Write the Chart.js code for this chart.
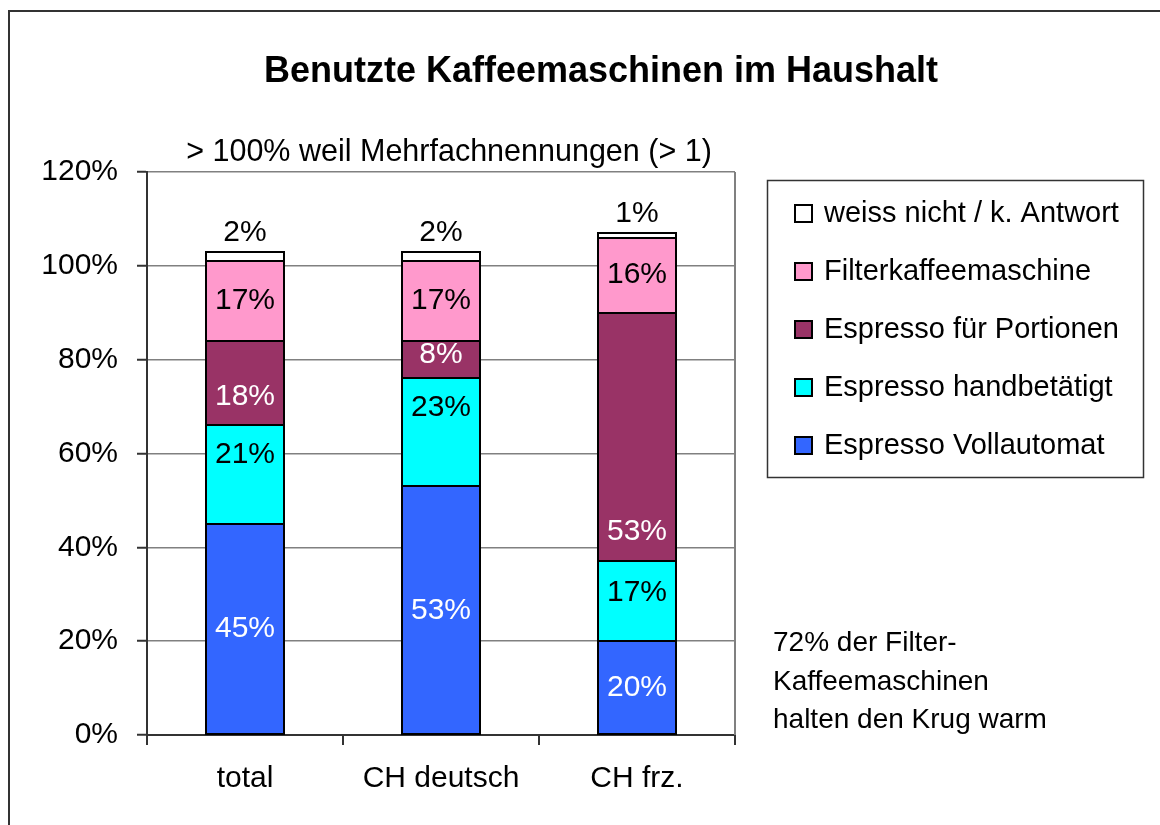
<!DOCTYPE html>
<html>
<head>
<meta charset="utf-8">
<script src="https://cdn.jsdelivr.net/npm/chart.js@4.4.1/dist/chart.umd.min.js"></script>
<style>
html,body{margin:0;padding:0;background:#fff;}
#wrap{width:1160px;height:825px;}
</style>
</head>
<body>
<div id="wrap"><canvas id="c" width="1160" height="825"></canvas></div>
<script>
// ---- data ----
const categories = ['total', 'CH deutsch', 'CH frz.'];
const seriesNames = ['Espresso Vollautomat', 'Espresso handbetätigt', 'Espresso für Portionen', 'Filterkaffeemaschine', 'weiss nicht / k. Antwort'];
const vollautomat = [45, 53, 20];
const handbetaetigt = [21, 23, 17];
const portionen = [18, 8, 53];
const filterkaffee = [17, 17, 16];
const weissNicht = [2, 2, 1];
const yTickValues = [0, 20, 40, 60, 80, 100, 120];
const titleText = 'Benutzte Kaffeemaschinen im Haushalt';
const subtitleText = '> 100% weil Mehrfachnennungen (> 1)';
const noteLines = ['72% der Filter-', 'Kaffeemaschinen', 'halten den Krug warm'];

// ---- styles ----
const FONT = '"Liberation Sans", Arial, sans-serif';
const colors = ['#3366FF', '#00FFFF', '#993366', '#FF99CC', '#FFFFFF'];
const labelColors = ['#FFFFFF', '#000000', '#FFFFFF', '#000000', '#000000'];
// label vertical shifts in pixels (style only)
const labelShift = [[0, 0, 0], [-20, -25, -9], [14, -5, 95], [0, 0, 0], [0, 0, 0]];

const seriesData = [vollautomat, handbetaetigt, portionen, filterkaffee, weissNicht];

const datasets = seriesData.map((d, i) => ({
  label: seriesNames[i],
  data: d,
  backgroundColor: colors[i],
  borderWidth: 0,
  barPercentage: 0.4,
  categoryPercentage: 1.0
}));

const decor = {
  id: 'decor',
  afterDatasetsDraw(chart) {
    const ctx = chart.ctx;
    ctx.save();
    // segment outlines, drawn from the elements' scale positions
    ctx.strokeStyle = '#000';
    ctx.lineWidth = 2;
    chart.data.datasets.forEach((ds, di) => {
      chart.getDatasetMeta(di).data.forEach(el => {
        const x0 = Math.round(el.x - el.width / 2), x1 = Math.round(el.x + el.width / 2);
        const y0 = Math.round(Math.min(el.y, el.base)), y1 = Math.round(Math.max(el.y, el.base));
        ctx.strokeRect(x0, y0, x1 - x0, y1 - y0);
      });
    });
    ctx.font = '30px ' + FONT;
    ctx.textAlign = 'center';
    ctx.textBaseline = 'middle';
    chart.data.datasets.forEach((ds, di) => {
      const meta = chart.getDatasetMeta(di);
      meta.data.forEach((el, j) => {
        const v = ds.data[j];
        let y;
        if (di === chart.data.datasets.length - 1) {
          y = Math.min(el.y, el.base) - 19;
        } else {
          y = (el.y + el.base) / 2 + labelShift[di][j];
        }
        ctx.fillStyle = labelColors[di];
        ctx.fillText(v + '%', el.x, y);
      });
    });
    ctx.restore();
  },
  afterDraw(chart) {
    const ctx = chart.ctx;
    const a = chart.chartArea;
    ctx.save();
    // plot right border
    ctx.strokeStyle = '#808080';
    ctx.lineWidth = 2;
    ctx.beginPath();
    ctx.moveTo(a.right, a.top);
    ctx.lineTo(a.right, a.bottom);
    ctx.stroke();
    // outer border
    ctx.strokeStyle = '#333333';
    ctx.lineWidth = 2;
    ctx.strokeRect(9, 11, 1180, 840);
    // title
    ctx.fillStyle = '#000';
    ctx.textAlign = 'center';
    ctx.textBaseline = 'middle';
    ctx.font = 'bold 36px ' + FONT;
    ctx.fillText(titleText, 601, 72);
    ctx.font = '30.5px ' + FONT;
    ctx.fillText(subtitleText, 449, 153);
    // note
    ctx.textAlign = 'left';
    ctx.font = '28px ' + FONT;
    const noteY = [643, 682, 720];
    noteLines.forEach((t, i) => ctx.fillText(t, 773, noteY[i]));
    // legend
    const lx = 767, ly = 180, lw = 376, lh = 297;
    ctx.fillStyle = '#fff';
    ctx.fillRect(lx, ly, lw, lh);
    ctx.strokeStyle = '#333';
    ctx.lineWidth = 1.5;
    ctx.strokeRect(lx + 0.5, ly + 0.5, lw, lh);
    ctx.font = '29px ' + FONT;
    const n = chart.data.datasets.length;
    for (let k = 0; k < n; k++) {
      const di = n - 1 - k;
      const cy = 213 + k * 58;
      ctx.fillStyle = chart.data.datasets[di].backgroundColor;
      ctx.fillRect(795, cy - 8, 17, 17);
      ctx.strokeStyle = '#000';
      ctx.lineWidth = 2;
      ctx.strokeRect(795, cy - 8, 17, 17);
      ctx.fillStyle = '#000';
      ctx.fillText(chart.data.datasets[di].label, 824, cy + 1);
    }
    ctx.restore();
  }
};

new Chart(document.getElementById('c'), {
  type: 'bar',
  data: { labels: categories, datasets: datasets },
  options: {
    responsive: false,
    animation: false,
    devicePixelRatio: 1,
    layout: { padding: { left: 0, right: 425, top: 172, bottom: 0 } },
    plugins: { legend: { display: false }, title: { display: false }, tooltip: { enabled: false } },
    scales: {
      x: {
        stacked: true,
        grid: { display: true, drawOnChartArea: false, tickLength: 10, color: '#333', lineWidth: 2, offset: true },
        border: { display: true, color: '#333', width: 2 },
        ticks: { color: '#000', font: { family: FONT, size: 30 }, padding: 16, maxRotation: 0 },
        afterFit(s) { s.height = 90; }
      },
      y: {
        stacked: true,
        min: 0,
        max: 120,
        afterBuildTicks(s) { s.ticks = yTickValues.map(v => ({ value: v })); },
        grid: { color: '#808080', lineWidth: 1.5, tickLength: 10, tickColor: '#333', tickWidth: 2 },
        border: { display: true, color: '#333', width: 2 },
        ticks: { color: '#000', font: { family: FONT, size: 30 }, padding: 19, callback: v => v + '%' },
        afterFit(s) { s.width = 147; }
      }
    }
  },
  plugins: [decor]
});
</script>
</body>
</html>
